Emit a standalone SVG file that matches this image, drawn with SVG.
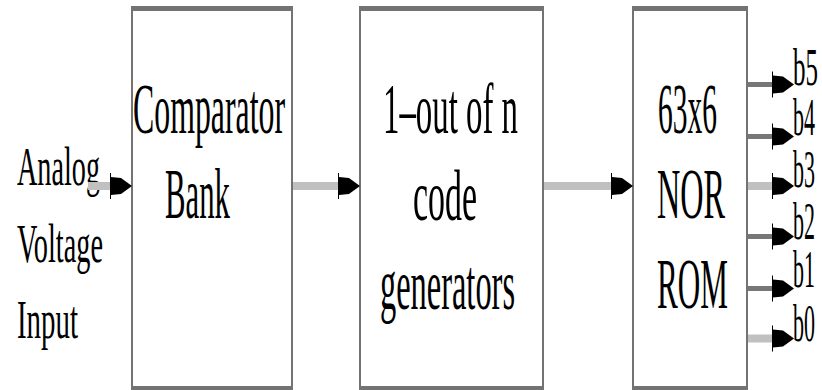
<svg xmlns="http://www.w3.org/2000/svg" width="822" height="390" viewBox="0 0 822 390">
  <style>
    .box-side { fill: #ffffff; stroke: #737373; stroke-width: 2; }
    .box-bar { fill: #737373; }
    .lbl { font-family: "Liberation Serif", "Times New Roman", serif; fill: #000000; }
    .big { font-size: 71px; }
    .mid { font-size: 55px; }
    .bit { font-size: 52px; }
    .wire-light { stroke: #c0c0c0; stroke-width: 8; fill: none; }
    .wire-dark { stroke: #777777; stroke-width: 5; fill: none; }
  </style>
  <defs>
    <!-- blocky arrowhead, tip at (22,0) -->
    <path id="head" d="M0,-13 L1,-13 L1,-9 L11,-8 L22,0 L11,8 L1,9 L1,13 L0,13 Z" fill="#000000"/>
  </defs>

  <!-- input label -->
  <g id="input-label">
    <text class="lbl mid" x="17" y="185" textLength="83" lengthAdjust="spacingAndGlyphs">Analog</text>
    <text class="lbl mid" x="17" y="262" textLength="86" lengthAdjust="spacingAndGlyphs">Voltage</text>
    <text class="lbl mid" x="17" y="338" textLength="61" lengthAdjust="spacingAndGlyphs">Input</text>
  </g>

  <!-- comparator bank -->
  <g id="comparator-bank">
    <rect class="box-side" x="132" y="8" width="160" height="380"/>
    <rect class="box-bar" x="131" y="6" width="162" height="5"/>
    <rect class="box-bar" x="131" y="386" width="162" height="4"/>
    <text class="lbl big" x="133" y="133" textLength="152" lengthAdjust="spacingAndGlyphs">Comparator</text>
    <text class="lbl big" x="165" y="218" textLength="65" lengthAdjust="spacingAndGlyphs">Bank</text>
  </g>

  <!-- 1-out-of-n code generators -->
  <g id="code-generators">
    <rect class="box-side" x="360" y="8" width="183" height="380"/>
    <rect class="box-bar" x="359" y="6" width="185" height="5"/>
    <rect class="box-bar" x="359" y="386" width="185" height="4"/>
    <text class="lbl big" x="383" y="133" textLength="135" lengthAdjust="spacingAndGlyphs">1–out of n</text>
    <text class="lbl big" x="413" y="220" textLength="64" lengthAdjust="spacingAndGlyphs">code</text>
    <text class="lbl big" x="380" y="309" textLength="135" lengthAdjust="spacingAndGlyphs">generators</text>
  </g>

  <!-- NOR ROM -->
  <g id="nor-rom">
    <rect class="box-side" x="633" y="8" width="114" height="380"/>
    <rect class="box-bar" x="632" y="6" width="116" height="5"/>
    <rect class="box-bar" x="632" y="386" width="116" height="4"/>
    <text class="lbl big" x="658" y="133" textLength="59" lengthAdjust="spacingAndGlyphs">63x6</text>
    <text class="lbl big" x="657" y="218" textLength="68" lengthAdjust="spacingAndGlyphs">NOR</text>
    <text class="lbl big" x="657" y="308" textLength="71" lengthAdjust="spacingAndGlyphs">ROM</text>
  </g>

  <!-- output bit labels -->
  <g id="bit-labels">
    <text class="lbl bit" x="793" y="85" textLength="25" lengthAdjust="spacingAndGlyphs">b5</text>
    <text class="lbl bit" x="793" y="135" textLength="22" lengthAdjust="spacingAndGlyphs">b4</text>
    <text class="lbl bit" x="793" y="187" textLength="22" lengthAdjust="spacingAndGlyphs">b3</text>
    <text class="lbl bit" x="793" y="239" textLength="22" lengthAdjust="spacingAndGlyphs">b2</text>
    <text class="lbl bit" x="793" y="287" textLength="22" lengthAdjust="spacingAndGlyphs">b1</text>
    <text class="lbl bit" x="793" y="341" textLength="22" lengthAdjust="spacingAndGlyphs">b0</text>
  </g>

  <!-- connectors -->
  <g id="connectors">
    <line class="wire-light" x1="88" y1="186" x2="113" y2="186"/>
    <use href="#head" x="110" y="186"/>

    <line class="wire-light" x1="293" y1="186" x2="340" y2="186"/>
    <use href="#head" x="338" y="186"/>

    <line class="wire-light" x1="544" y1="186" x2="614" y2="186"/>
    <use href="#head" x="611" y="186"/>

    <line class="wire-dark" x1="748" y1="84.5" x2="775" y2="84.5"/>
    <use href="#head" x="772" y="84.5"/>
    <line class="wire-dark" x1="748" y1="136.5" x2="775" y2="136.5"/>
    <use href="#head" x="772" y="136.5"/>
    <line class="wire-light" x1="748" y1="186" x2="775" y2="186"/>
    <use href="#head" x="772" y="186"/>
    <line class="wire-dark" x1="748" y1="236.5" x2="775" y2="236.5"/>
    <use href="#head" x="772" y="236.5"/>
    <line class="wire-dark" x1="748" y1="288.5" x2="775" y2="288.5"/>
    <use href="#head" x="772" y="288.5"/>
    <line class="wire-light" x1="748" y1="338.5" x2="775" y2="338.5"/>
    <use href="#head" x="772" y="338.5"/>
  </g>
</svg>
